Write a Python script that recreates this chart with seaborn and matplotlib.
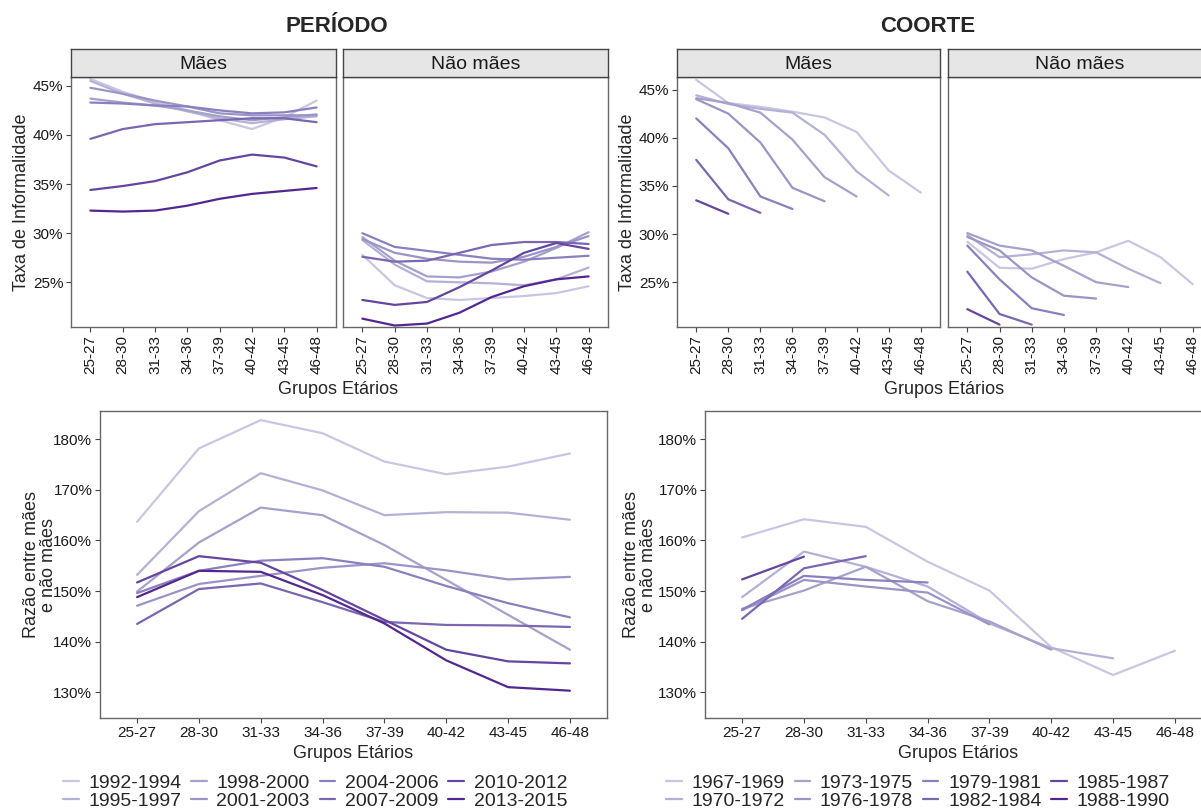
import matplotlib
matplotlib.use("Agg")
import matplotlib.pyplot as plt
import pandas as pd
import seaborn as sns

# dados
idades = ["25-27", "28-30", "31-33", "34-36", "37-39", "40-42", "43-45", "46-48"]
periodos = ["1992-1994", "1995-1997", "1998-2000", "2001-2003",
            "2004-2006", "2007-2009", "2010-2012", "2013-2015"]
coortes = ["1967-1969", "1970-1972", "1973-1975", "1976-1978",
           "1979-1981", "1982-1984", "1985-1987", "1988-1990"]

# taxa de informalidade (%) por periodo
per_maes = [
    [45.7, 44.4, 43.4, 42.5, 41.5, 40.6, 41.8, 43.5],
    [45.5, 44.2, 43.2, 42.4, 41.7, 41.2, 41.6, 41.9],
    [43.7, 43.3, 43.0, 42.5, 41.9, 41.5, 41.8, 42.1],
    [44.8, 44.2, 43.5, 42.9, 42.2, 42.0, 42.0, 42.0],
    [43.3, 43.2, 43.0, 42.9, 42.5, 42.2, 42.3, 42.8],
    [39.6, 40.6, 41.1, 41.3, 41.5, 41.7, 41.7, 41.3],
    [34.4, 34.8, 35.3, 36.2, 37.4, 38.0, 37.7, 36.8],
    [32.3, 32.2, 32.3, 32.8, 33.5, 34.0, 34.3, 34.6],
]
per_nao_maes = [
    [27.8, 24.7, 23.4, 23.2, 23.4, 23.6, 23.9, 24.6],
    [29.3, 26.8, 25.1, 25.0, 24.9, 24.7, 25.3, 26.5],
    [29.6, 27.2, 25.6, 25.5, 26.1, 27.1, 28.5, 30.1],
    [29.4, 28.0, 27.4, 27.1, 27.0, 27.6, 28.6, 29.7],
    [30.0, 28.6, 28.2, 27.8, 27.4, 27.3, 27.5, 27.7],
    [27.6, 27.1, 27.2, 28.0, 28.8, 29.1, 29.1, 28.9],
    [23.2, 22.7, 23.0, 24.5, 26.2, 28.0, 29.0, 28.4],
    [21.3, 20.6, 20.8, 21.9, 23.5, 24.6, 25.3, 25.6],
]
per_razao = [
    [163.7, 178.2, 183.8, 181.2, 175.6, 173.1, 174.6, 177.2],
    [153.2, 165.8, 173.3, 169.9, 165.0, 165.6, 165.5, 164.1],
    [149.9, 159.6, 166.5, 165.0, 159.1, 152.2, 145.3, 138.4],
    [147.1, 151.4, 153.0, 154.6, 155.5, 154.1, 152.3, 152.8],
    [149.6, 154.0, 156.0, 156.5, 154.8, 151.0, 147.6, 144.8],
    [143.5, 150.4, 151.5, 147.8, 143.9, 143.3, 143.2, 142.9],
    [151.7, 156.9, 155.6, 150.2, 144.3, 138.4, 136.1, 135.7],
    [148.8, 154.0, 153.8, 149.2, 143.6, 136.3, 131.0, 130.3],
]

# taxa de informalidade (%) por coorte
coh_maes = [
    [46.0, 43.6, 43.2, 42.7, 42.1, 40.6, 36.6, 34.3],
    [44.4, 43.5, 43.0, 42.6, 40.3, 36.5, 34.0],
    [44.1, 43.6, 42.6, 39.8, 35.9, 33.9],
    [44.0, 42.5, 39.5, 34.8, 33.4],
    [42.0, 38.9, 33.9, 32.6],
    [37.7, 33.6, 32.2],
    [33.5, 32.1],
    [32.3],
]
coh_nao_maes = [
    [29.2, 26.5, 26.4, 27.4, 28.1, 29.3, 27.6, 24.8],
    [29.9, 27.6, 27.9, 28.3, 28.1, 26.4, 24.9],
    [30.1, 28.8, 28.3, 26.7, 25.0, 24.5],
    [29.7, 28.3, 25.5, 23.6, 23.3],
    [28.8, 25.3, 22.3, 21.6],
    [26.1, 21.7, 20.6],
    [22.2, 20.6],
    [21.3],
]
coh_razao = [
    [160.6, 164.2, 162.7, 155.8, 150.1, 138.9, 133.4, 138.2],
    [148.8, 157.8, 154.8, 150.9, 143.6, 138.7, 136.7],
    [146.5, 150.1, 154.8, 148.0, 144.0, 138.4],
    [146.2, 152.2, 150.9, 149.7, 143.4],
    [146.3, 153.0, 152.2, 151.7],
    [144.5, 154.5, 156.9],
    [152.3, 156.8],
    [152.0],
]

cores = ["#c8c6e3", "#b4b1d7", "#a5a1cd", "#9a94c7", "#8b80bf",
         "#7a66b1", "#64459f", "#532790"]


def longo(grupos, valores):
    linhas = []
    for g, vals in zip(grupos, valores):
        for i, v in enumerate(vals):
            linhas.append((g, i, v))
    return pd.DataFrame(linhas, columns=["grupo", "x", "valor"])


sns.set_theme(style="white")
plt.rcParams["font.family"] = ["Liberation Sans", "DejaVu Sans"]

W, H = 1201, 810
fig = plt.figure(figsize=(W / 100, H / 100), dpi=100)


def caixa(l, t, r, b):
    return fig.add_axes([l / W, 1 - b / H, (r - l) / W, (b - t) / H])


def faixa(l, r, texto):
    s = caixa(l, 49, r, 77)
    s.set_facecolor("#e6e6e6")
    s.set_xticks([])
    s.set_yticks([])
    for sp in s.spines.values():
        sp.set_color("#444444")
        sp.set_linewidth(1.0)
    s.text(0.5, 0.45, texto, ha="center", va="center", fontsize=14, color="#1a1a1a")


def painel(ax, df, grupos, ylim, yticks, ylabels, rot, legenda=False):
    sns.lineplot(data=df, x="x", y="valor", hue="grupo", hue_order=grupos,
                 palette=cores, linewidth=1.6, estimator=None, ax=ax, legend=legenda)
    ax.set_xlim(-0.6, 7.6)
    ax.set_ylim(*ylim)
    ax.set_xticks(range(len(idades)))
    ax.set_xticklabels(idades, rotation=rot)
    ax.set_yticks(yticks)
    if ylabels:
        ax.set_yticklabels([f"{v}%" for v in yticks])
    else:
        ax.tick_params(axis="y", left=False, labelleft=False)
    ax.set_xlabel("")
    ax.set_ylabel("")
    ax.tick_params(length=3.5, width=0.8, color="#444444", labelsize=11,
                   labelcolor="#1a1a1a", pad=2, bottom=True)
    if ylabels:
        ax.tick_params(axis="y", left=True)
    for sp in ax.spines.values():
        sp.set_color("#666666")
        sp.set_linewidth(1.0)


# PERIODO - painel superior
yt_top = [25, 30, 35, 40, 45]
ax = caixa(71, 77, 336, 327)
painel(ax, longo(periodos, per_maes), periodos, (20.45, 45.9), yt_top, True, 90)
faixa(71, 336, "Mães")
ax = caixa(343, 77, 608, 327)
painel(ax, longo(periodos, per_nao_maes), periodos, (20.45, 45.9), yt_top, False, 90)
faixa(343, 608, "Não mães")

# COORTE - painel superior
ax = caixa(677, 77, 940, 327)
painel(ax, longo(coortes, coh_maes), coortes, (20.35, 46.3), yt_top, True, 90)
faixa(677, 940, "Mães")
ax = caixa(948, 77, 1212, 327)
painel(ax, longo(coortes, coh_nao_maes), coortes, (20.35, 46.3), yt_top, False, 90)
faixa(948, 1212, "Não mães")

# razao
yt_bot = [130, 140, 150, 160, 170, 180]
ax_p = caixa(100, 411, 607, 718)
painel(ax_p, longo(periodos, per_razao), periodos, (124.9, 185.6), yt_bot, True, 0, legenda=True)
ax_c = caixa(705, 411, 1212, 718)
painel(ax_c, longo(coortes, coh_razao), coortes, (124.9, 185.6), yt_bot, True, 0, legenda=True)

for a, cx in [(ax_p, 315), (ax_c, 918)]:
    h, l = a.get_legend_handles_labels()
    a.get_legend().remove()
    fig.legend(h, l, loc="center", bbox_to_anchor=(cx / W, 1 - 792 / H), ncol=4,
               frameon=False, fontsize=14, handlelength=0.8, handletextpad=0.5,
               columnspacing=0.5, labelspacing=0.0, borderpad=0)

# textos
fig.text(337 / W, 1 - 26 / H, "PERÍODO", ha="center", va="center", fontsize=16, weight="bold")
fig.text(928 / W, 1 - 26 / H, "COORTE", ha="center", va="center", fontsize=16, weight="bold")
for x in (338, 944):
    fig.text(x / W, 1 - 389 / H, "Grupos Etários", ha="center", va="center", fontsize=13)
fig.text(353 / W, 1 - 753 / H, "Grupos Etários", ha="center", va="center", fontsize=13)
fig.text(958 / W, 1 - 753 / H, "Grupos Etários", ha="center", va="center", fontsize=13)
fig.text(22 / W, 1 - 202 / H, "Taxa de Informalidade", ha="center", va="center",
         rotation=90, fontsize=13)
fig.text(628 / W, 1 - 202 / H, "Taxa de Informalidade", ha="center", va="center",
         rotation=90, fontsize=13)
fig.text(40 / W, 1 - 565 / H, "Razão entre mães\ne não mães", ha="center", va="center",
         rotation=90, fontsize=13, linespacing=1.0)
fig.text(640 / W, 1 - 565 / H, "Razão entre mães\ne não mães", ha="center", va="center",
         rotation=90, fontsize=13, linespacing=1.0)

fig.savefig("out.png", dpi=100, facecolor="white")
